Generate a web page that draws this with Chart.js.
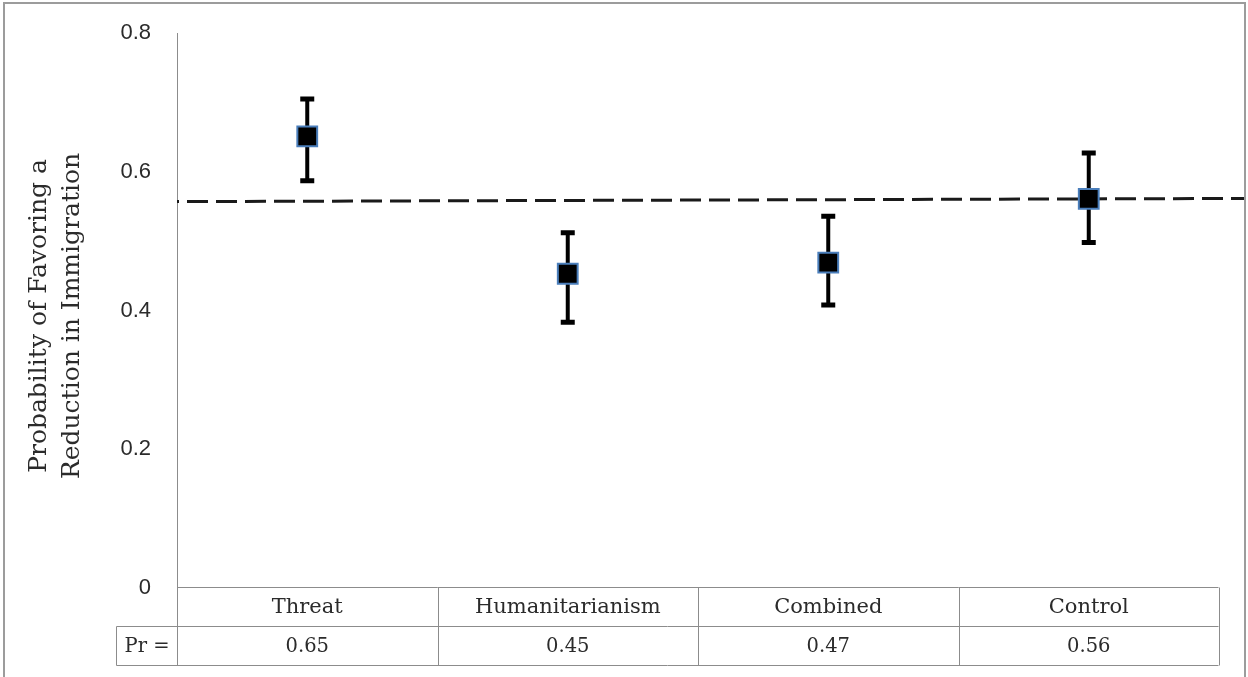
<!DOCTYPE html>
<html>
<head>
<meta charset="utf-8">
<script src="https://cdn.jsdelivr.net/npm/chart.js@4.4.1/dist/chart.umd.min.js"></script>
<style>
html, body { margin: 0; padding: 0; background: #fff; }
#wrap { width: 1248px; height: 677px; position: relative; }
</style>
</head>
<body>
<div id="wrap"><canvas id="chart"></canvas></div>
<script>
var categories = ["Threat", "Humanitarianism", "Combined", "Control"];
var means = [0.651, 0.453, 0.469, 0.561];
var upper = [0.705, 0.512, 0.536, 0.627];
var lower = [0.587, 0.383, 0.408, 0.498];
var prLabels = ["0.65", "0.45", "0.47", "0.56"];
var refLineX = [-0.5, 3.6];
var refLineY = [0.557, 0.5615];
var yTicks = [0, 0.2, 0.4, 0.6, 0.8];
var yTitle = ["Probability of Favoring a", "Reduction in Immigration"];

var serif = "'DejaVu Serif', serif";
var textColor = "#2b2b2b";
var lineGray = "#8c8c8c";

// outer frame of the figure
var frame = {
    id: "frame",
    afterDraw: function (chart) {
        var ctx = chart.ctx;
        ctx.save();
        ctx.strokeStyle = "#9c9c9c";
        ctx.lineWidth = 2;
        ctx.strokeRect(4, 3, 1241, 720);
        ctx.restore();
    },
};

// error bars, drawn under the markers
var errorBars = {
    id: "errorBars",
    beforeDatasetsDraw: function (chart) {
        var x = chart.scales.x, y = chart.scales.y, ctx = chart.ctx;
        ctx.save();
        ctx.strokeStyle = "#000";
        ctx.lineCap = "butt";
        for (var i = 0; i < means.length; i++) {
            var px = x.getPixelForValue(i);
            var top = y.getPixelForValue(upper[i]);
            var bot = y.getPixelForValue(lower[i]);
            ctx.lineWidth = 4;
            ctx.beginPath();
            ctx.moveTo(px, top);
            ctx.lineTo(px, bot);
            ctx.stroke();
            ctx.lineWidth = 5;
            ctx.beginPath();
            ctx.moveTo(px - 7, top);
            ctx.lineTo(px + 7, top);
            ctx.moveTo(px - 7, bot);
            ctx.lineTo(px + 7, bot);
            ctx.stroke();
        }
        ctx.restore();
    },
};

// category / Pr table under the plot, and the y title
var table = {
    id: "prTable",
    afterDraw: function (chart) {
        var x = chart.scales.x, y = chart.scales.y, ctx = chart.ctx;
        var r0 = Math.round(y.getPixelForValue(0)) - 0.5;
        var r1 = r0 + 39, r2 = r0 + 78;
        var left = Math.round(x.getPixelForValue(-0.5)) + 0.5;
        var right = Math.round(x.getPixelForValue(categories.length - 0.5)) - 0.5;
        var prLeft = 116.5;
        ctx.save();
        ctx.strokeStyle = lineGray;
        ctx.lineWidth = 1;
        ctx.beginPath();
        ctx.moveTo(left, r0); ctx.lineTo(right, r0);
        ctx.moveTo(prLeft, r1); ctx.lineTo(right, r1);
        ctx.moveTo(prLeft, r2); ctx.lineTo(right, r2);
        ctx.moveTo(prLeft, r1); ctx.lineTo(prLeft, r2);
        for (var i = 0; i <= categories.length; i++) {
            var bx = Math.round(x.getPixelForValue(i - 0.5)) + 0.5;
            ctx.moveTo(bx, r0); ctx.lineTo(bx, r2);
        }
        ctx.stroke();

        ctx.fillStyle = textColor;
        ctx.textAlign = "center";
        ctx.textBaseline = "middle";
        for (var j = 0; j < categories.length; j++) {
            var cx = x.getPixelForValue(j);
            ctx.font = "21px " + serif;
            ctx.fillText(categories[j], cx, (r0 + r1) / 2 + 1);
            ctx.font = "19.5px " + serif;
            ctx.fillText(prLabels[j], cx, (r1 + r2) / 2 + 1);
        }
        ctx.fillText("Pr =", (prLeft + left) / 2, (r1 + r2) / 2 + 1);

        // y axis title, two rotated lines
        ctx.font = "25px " + serif;
        ctx.translate(39, 316);
        ctx.rotate(-Math.PI / 2);
        ctx.fillText(yTitle[0], 0, 0);
        ctx.fillText(yTitle[1], 0, 33);
        ctx.restore();
    },
};

var chart = new Chart(document.getElementById("chart"), {
    type: "scatter",
    data: {
        datasets: [
            {
                type: "line",
                data: refLineX.map(function (v, i) { return { x: v, y: refLineY[i] }; }),
                borderColor: "#1a1a1a",
                borderWidth: 3,
                borderDash: [21, 8],
                borderDashOffset: 19,
                pointRadius: 0,
                clip: false,
                order: 2,
            },
            {
                data: means.map(function (v, i) { return { x: i, y: v }; }),
                pointStyle: "rect",
                pointRadius: 14,
                pointHoverRadius: 14,
                backgroundColor: "#000",
                borderColor: "#4a7ebb",
                borderWidth: 2,
                order: 1,
            },
        ],
    },
    options: {
        responsive: true,
        maintainAspectRatio: false,
        animation: false,
        events: [],
        layout: { padding: { left: 0, top: 33, right: 29, bottom: 89 } },
        plugins: {
            legend: { display: false },
            tooltip: { enabled: false },
        },
        scales: {
            x: { type: "linear", min: -0.5, max: 3.5, display: false },
            y: {
                min: 0,
                max: 0.8,
                afterBuildTicks: function (scale) {
                    scale.ticks = yTicks.map(function (v) { return { value: v }; });
                },
                afterFit: function (scale) {
                    scale.width = 177;
                    scale.paddingTop = 0;
                    scale.paddingBottom = 0;
                },
                grid: { display: false, drawTicks: false },
                border: { display: true, color: lineGray, width: 1 },
                ticks: {
                    padding: 26,
                    color: textColor,
                    font: { family: "'Liberation Sans', sans-serif", size: 22 },
                    callback: function (v) { return v === 0 ? "0" : v.toFixed(1); },
                },
            },
        },
    },
    plugins: [frame, errorBars, table],
});
</script>
</body>
</html>
